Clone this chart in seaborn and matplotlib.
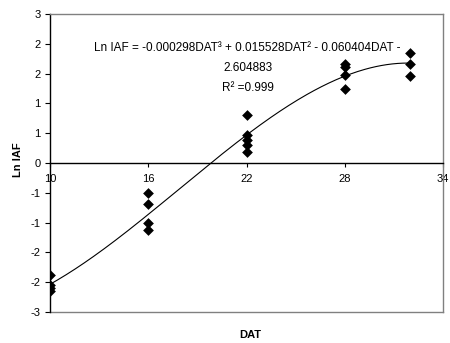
import numpy as np
import pandas as pd
import matplotlib
matplotlib.use("Agg")
import matplotlib.pyplot as plt
import seaborn as sns

# ---- data ----
dat_10 = [-1.88, -2.05, -2.10, -2.14]
dat_16 = [-0.51, -0.69, -1.01, -1.12]
dat_22 = [0.81, 0.47, 0.39, 0.30, 0.18]
dat_28 = [1.66, 1.61, 1.48, 1.24]
dat_32 = [1.85, 1.66, 1.46]
days = [10, 16, 22, 28, 32]

x_ticks = [10, 16, 22, 28, 34]
y_ticks = [-2.5, -2.0, -1.5, -1.0, -0.5, 0.0, 0.5, 1.0, 1.5, 2.0, 2.5]
y_tick_labels = ["-3", "-2", "-2", "-1", "-1", "0", "1", "1", "2", "2", "3"]

eq_line1 = "Ln IAF = -0.000298DAT³ + 0.015528DAT² - 0.060404DAT -"
eq_line2 = "2.604883"
eq_line3 = "R² =0.999"

# ---- build table ----
rows = []
for d, vals in zip(days, [dat_10, dat_16, dat_22, dat_28, dat_32]):
    for v in vals:
        rows.append({"DAT": d, "LnIAF": v})
df = pd.DataFrame(rows)

# cubic trendline fitted to the points
coef = np.polyfit(df["DAT"], df["LnIAF"], 3)
xs = np.linspace(min(days), max(days), 200)
trend = pd.DataFrame({"DAT": xs, "LnIAF": np.polyval(coef, xs)})

plt.rcParams["font.family"] = ["Liberation Sans", "DejaVu Sans"]

fig = plt.figure(figsize=(4.5, 3.43), dpi=100)
ax = fig.add_axes([50 / 450, 1 - 312 / 343, 393 / 450, 298 / 343])

sns.lineplot(data=trend, x="DAT", y="LnIAF", ax=ax, color="black", linewidth=0.8)
sns.scatterplot(data=df, x="DAT", y="LnIAF", ax=ax, marker="D", s=30,
                color="black", edgecolor="black", linewidth=0, zorder=3)

ax.set_xlim(10, 34)
ax.set_ylim(-2.5, 2.5)
ax.set_xticks(x_ticks)
ax.set_xticklabels([str(v) for v in x_ticks])
ax.set_yticks(y_ticks)
ax.set_yticklabels(y_tick_labels)

ax.spines["bottom"].set_position(("data", 0))
ax.spines["bottom"].set_color("black")
ax.spines["bottom"].set_linewidth(1.0)
ax.spines["left"].set_color("black")
ax.spines["left"].set_linewidth(1.0)
for s in ["top", "right"]:
    ax.spines[s].set_color("#808080")
    ax.spines[s].set_linewidth(1.0)
ax.axhline(-2.5, color="#808080", linewidth=1.0, clip_on=False)

ax.tick_params(axis="x", direction="out", length=3, width=0.8, pad=5,
               labelsize=8, colors="black")
ax.tick_params(axis="y", direction="out", length=3.6, width=0.8, pad=3,
               labelsize=8, colors="black")

ax.set_xlabel("")
ax.set_ylabel("")
fig.text(18 / 450, 1 - 160 / 343, "Ln IAF", rotation=90, ha="center", va="center",
         fontsize=8, fontweight="bold")
fig.text(250 / 450, 1 - 335 / 343, "DAT", ha="center", va="center",
         fontsize=8, fontweight="bold")

for txt, ypix in [(eq_line1, 48), (eq_line2, 68), (eq_line3, 88)]:
    fig.text(247.5 / 450, 1 - ypix / 343, txt, ha="center", va="center", fontsize=8.5)

fig.savefig("out.png", dpi=100)
